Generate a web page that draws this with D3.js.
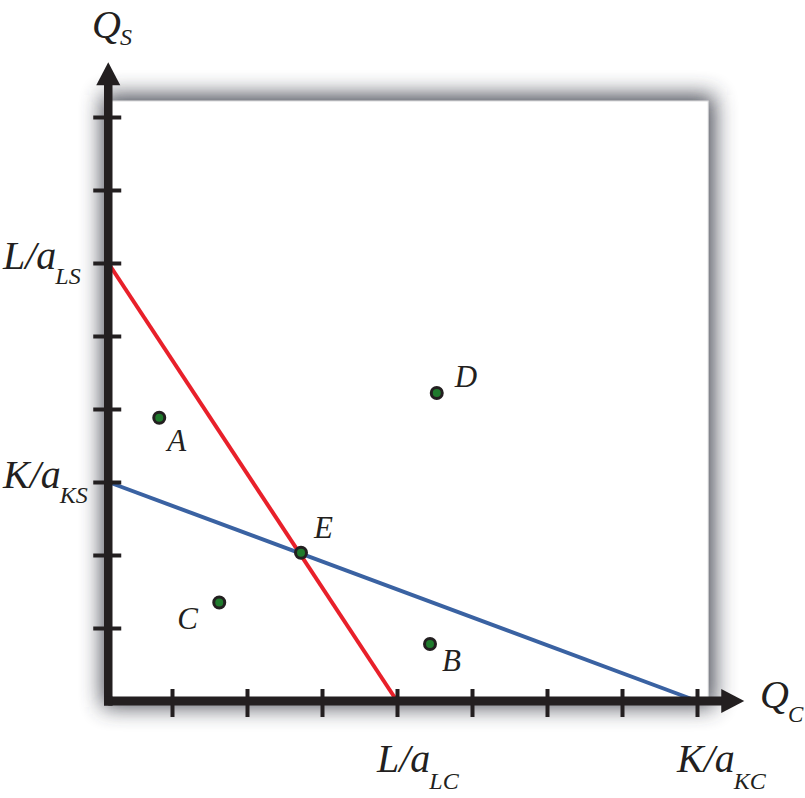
<!DOCTYPE html>
<html>
<head>
<meta charset="utf-8">
<script src="https://cdn.jsdelivr.net/npm/d3@7"></script>
<style>
  html, body { margin: 0; padding: 0; background: #fff; }
  svg { display: block; }
  text { font-family: "Liberation Serif", "Times New Roman", Times, serif; font-style: italic; fill: #231f20; }
</style>
</head>
<body>
<svg id="chart" width="805" height="798"></svg>
<script>
// ---- data (chart units: one unit = one tick step) ----
const xTicks = [1, 2, 3, 4, 5, 6, 7, 8];
const yTicks = [1, 2, 3, 4, 5, 6, 7, 8];
const axisOrigin = { x: 0.15, y: 0 };      // where the two axes cross
const boxMax = { x: 8.15, y: 8.22 };       // upper-right corner of the plot box
const arrowTip = { x: 8.63, y: 8.75 };     // tips of the axis arrows

const laborLine = [ { x: 0.15, y: 6 }, { x: 4, y: 0 } ];   // red
const capitalLine = [ { x: 0.15, y: 3 }, { x: 8, y: 0 } ]; // blue

const pointNames = ["A", "D", "E", "C", "B"];
const pointX = [0.83, 4.53, 2.72, 1.63, 4.44];
const pointY = [3.88, 4.22, 2.03, 1.35, 0.78];
const pointLabelDx = [8, 18, 13, -42, 12];
const pointLabelDy = [33, -6, -15, 27, 27];

const yAxisLabels = [
  { value: 6, main: "L/a", sub: "LS" },
  { value: 3, main: "K/a", sub: "KS" }
];
const xAxisLabels = [
  { value: 4, main: "L/a", sub: "LC" },
  { value: 8, main: "K/a", sub: "KC" }
];

// ---- scales ----
const x = d3.scaleLinear().domain([0, 8]).range([97, 697]);
const y = d3.scaleLinear().domain([0, 8]).range([701, 117]);

const svg = d3.select("#chart");
const ink = "#231f20";

// shadow filter
const defs = svg.append("defs");
const f = defs.append("filter").attr("id", "shadow")
  .attr("x", "-20%").attr("y", "-20%").attr("width", "140%").attr("height", "140%");
f.append("feGaussianBlur").attr("stdDeviation", 11);

const x0 = x(axisOrigin.x), y0 = y(axisOrigin.y);
const x1 = x(boxMax.x), y1 = y(boxMax.y);

svg.append("rect")
  .attr("x", x0 - 6).attr("y", y1 - 6)
  .attr("width", x1 - x0 + 12).attr("height", y0 - y1 + 12)
  .attr("fill", "#3e414c").attr("opacity", 0.95)
  .attr("filter", "url(#shadow)");

svg.append("rect")
  .attr("x", x0).attr("y", y1)
  .attr("width", x1 - x0).attr("height", y0 - y1)
  .attr("fill", "#fff").attr("stroke", "#d4d4d6").attr("stroke-width", 1);

// ---- lines ----
const line = d3.line().x(d => x(d.x)).y(d => y(d.y));
svg.append("path").datum(laborLine).attr("d", line)
  .attr("fill", "none").attr("stroke", "#e8202a").attr("stroke-width", 4);
svg.append("path").datum(capitalLine).attr("d", line)
  .attr("fill", "none").attr("stroke", "#3a62a2").attr("stroke-width", 4);

// ---- axes ----
const xAxis = d3.axisBottom(x).tickValues(xTicks).tickSize(16).tickFormat("");
const gx = svg.append("g").attr("transform", `translate(0,${y0})`).call(xAxis);
gx.select(".domain").remove();
gx.selectAll(".tick line").attr("y1", -12).attr("stroke", ink).attr("stroke-width", 4);

const yAxis = d3.axisLeft(y).tickValues(yTicks).tickSize(15).tickFormat("");
const gy = svg.append("g").attr("transform", `translate(${x0},0)`).call(yAxis);
gy.select(".domain").remove();
gy.selectAll(".tick line").attr("x1", 13).attr("stroke", ink).attr("stroke-width", 4);

// axis lines
svg.append("line").attr("x1", x0).attr("x2", x(arrowTip.x) - 20)
  .attr("y1", y0).attr("y2", y0)
  .attr("stroke", ink).attr("stroke-width", 9);
svg.append("line").attr("x1", x0).attr("x2", x0)
  .attr("y1", y0 + 4.5).attr("y2", y(arrowTip.y) + 20)
  .attr("stroke", ink).attr("stroke-width", 8.5);
svg.append("line").attr("x1", x0 - 4.25).attr("x2", x0 + 4.25)
  .attr("y1", y0).attr("y2", y0).attr("stroke", ink).attr("stroke-width", 9);

// arrowheads
const tx = x(arrowTip.x), ty = y(arrowTip.y);
svg.append("path")
  .attr("d", `M${tx},${y0} L${tx - 23},${y0 - 12} L${tx - 23},${y0 + 12} Z`)
  .attr("fill", ink);
svg.append("path")
  .attr("d", `M${x0},${ty} L${x0 - 12},${ty + 23} L${x0 + 12},${ty + 23} Z`)
  .attr("fill", ink);

// ---- points ----
const pts = pointNames.map((n, i) => ({ name: n, x: pointX[i], y: pointY[i], dx: pointLabelDx[i], dy: pointLabelDy[i] }));
svg.selectAll("circle.pt").data(pts).join("circle")
  .attr("class", "pt")
  .attr("cx", d => x(d.x)).attr("cy", d => y(d.y)).attr("r", 5.5)
  .attr("fill", "#1f7a2c").attr("stroke", "#231f20").attr("stroke-width", 3);
svg.selectAll("text.pl").data(pts).join("text")
  .attr("class", "pl")
  .attr("x", d => x(d.x) + d.dx).attr("y", d => y(d.y) + d.dy)
  .attr("font-size", 31)
  .text(d => d.name);

// ---- axis labels ----
function subLabel(sel, main, sub, subDy, mainSize, subSize) {
  sel.append("tspan").attr("font-size", mainSize).text(main);
  sel.append("tspan").attr("font-size", subSize).attr("dy", subDy).attr("dx", -1).text(sub);
}
yAxisLabels.forEach(d => {
  const t = svg.append("text").attr("x", 3).attr("y", y(d.value) + 6);
  subLabel(t, d.main, d.sub, 15, 40, 24);
});
xAxisLabels.forEach(d => {
  const t = svg.append("text").attr("x", x(d.value) - 20).attr("y", y0 + 71);
  subLabel(t, d.main, d.sub, 17, 40, 24);
});
// axis titles
const qs = svg.append("text").attr("x", 92).attr("y", 38);
subLabel(qs, "Q", "S", 7, 40, 24);
const qc = svg.append("text").attr("x", 760).attr("y", 708);
subLabel(qc, "Q", "C", 14, 40, 23);
</script>
</body>
</html>
